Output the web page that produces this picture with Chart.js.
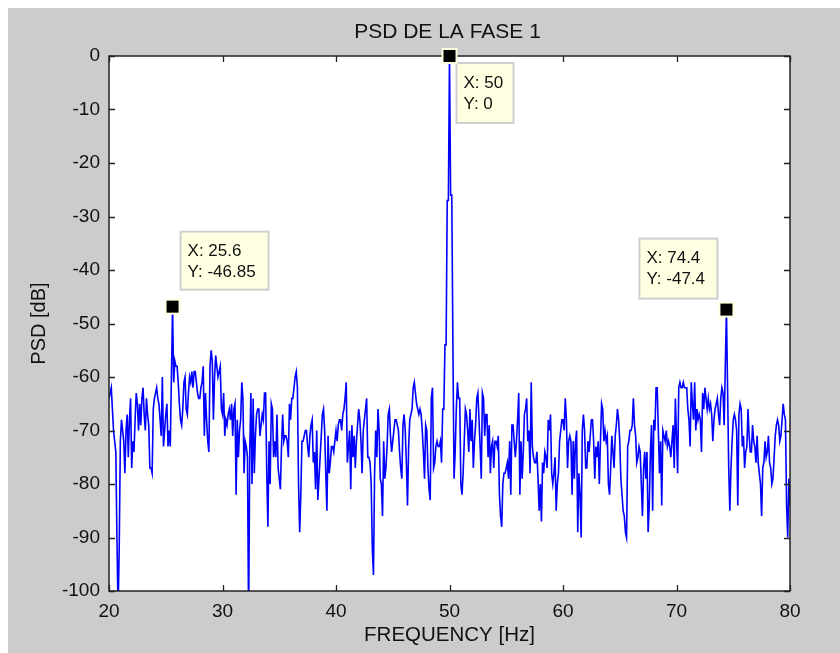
<!DOCTYPE html>
<html><head><meta charset="utf-8">
<script src="https://cdn.jsdelivr.net/npm/chart.js@4.4.1/dist/chart.umd.min.js"></script>
<style>html,body{margin:0;padding:0;background:#fff;}canvas{display:block;}</style>
</head><body>
<canvas id="c" width="840" height="653"></canvas>
<script>
const chartTitle = 'PSD DE LA FASE 1';
const xTitle = 'FREQUENCY [Hz]';
const yTitle = 'PSD [dB]';
const freqStart = 20, freqStep = 0.1;
// PSD values (dB), 0.1 Hz apart
const psd20to30 = [-64,-63,-62,-66,-70,-72,-74,-90,-104,-92,
 -72,-68,-70,-72,-78,-70,-67,-75,-68,-64,
 -77,-72,-74,-68,-63,-65,-70,-65,-69,-64,
 -62,-67,-70,-64,-67,-69,-77,-77,-78,-66,
 -64,-63,-62,-64,-65,-68,-71,-60,-73,-70,
 -67,-65,-73,-70,-73,-60,-46.85,-61,-57,-58,
 -58,-61,-65,-68,-69,-66,-61,-60,-66,-67,
 -63,-60,-61,-59,-62,-59,-59,-61,-63,-64,
 -64,-62,-61,-58,-71,-63,-68,-72,-74,-58,
 -55,-57,-68,-60,-56,-58,-60,-59,-58,-66,
 -67];
const psd30to40 = [-63,-71,-68,-69,-67,-66,-68,-65,-71,-66,
 -65,-82,-68,-75,-70,-68,-61,-64,-78,-72,
 -73,-75,-106,-74,-63,-80,-64,-78,-71,-67,
 -66,-66,-71,-69,-67,-68,-63,-63,-78,-88,
 -72,-80,-65,-66,-75,-72,-75,-67,-77,-79,
 -81,-73,-67,-72,-71,-71,-72,-75,-65,-68,
 -64,-64,-62,-60,-59,-62,-80,-89,-82,-72,
 -72,-71,-70,-70,-73,-75,-71,-69,-68,-76,
 -74,-81,-70,-83,-79,-75,-71,-67,-66,-70,
 -78,-85,-71,-78,-76,-73,-73,-74,-72,-70];
const psd40to50 = [-72,-69,-68,-68,-70,-67,-66,-64,-61,-76,
 -73,-70,-81,-69,-75,-71,-77,-72,-69,-66,
 -68,-72,-78,-70,-68,-66,-64,-75,-75,-76,
 -80,-92,-97,-78,-70,-75,-66,-70,-79,-80,
 -86,-72,-79,-77,-73,-67,-66,-71,-74,-72,
 -70,-68,-68,-69,-70,-74,-77,-79,-69,-67,
 -70,-76,-84,-73,-68,-67,-66,-62,-61,-63,
 -65,-66,-67,-66,-67,-70,-74,-79,-69,-70,
 -77,-81,-83,-64,-62,-77,-76,-73,-72,-73,
 -73,-72,-76,-66,-66,-54,-54,-27,-27,0];
const psd50to60 = [-26,-26,-54,-79,-74,-66,-61,-64,-64,-80,
 -82,-78,-72,-66,-67,-70,-74,-66,-72,-68,
 -77,-72,-69,-64,-63,-68,-73,-79,-63,-64,
 -71,-67,-67,-75,-69,-78,-73,-72,-77,-72,
 -72,-73,-71,-82,-86,-88,-80,-78,-78,-77,
 -76,-79,-72,-82,-69,-69,-72,-75,-72,-68,
 -63,-82,-72,-79,-74,-67,-66,-64,-72,-70,
 -78,-61,-73,-75,-76,-76,-74,-79,-85,-80,
 -87,-76,-78,-74,-75,-77,-68,-70,-67,-78,
 -80,-78,-75,-85,-80,-78,-72,-70,-68,-68];
const psd60to70 = [-70,-64,-68,-77,-72,-71,-72,-82,-72,-79,
 -72,-70,-89,-78,-82,-90,-70,-67,-70,-77,
 -77,-72,-74,-71,-68,-68,-72,-79,-73,-75,
 -72,-80,-72,-65,-66,-72,-70,-72,-71,-80,
 -82,-77,-71,-74,-77,-71,-69,-66,-68,-72,
 -79,-82,-85,-86,-89,-90,-73,-72,-70,-70,
 -69,-64,-69,-71,-76,-75,-73,-74,-80,-86,
 -77,-74,-79,-74,-89,-84,-74,-69,-85,-68,
 -70,-62,-62,-70,-78,-72,-84,-70,-71,-72,
 -70,-73,-72,-73,-75,-72,-69,-77,-64,-71];
const psd70to80 = [-78,-62,-61,-62,-62,-61,-62,-62,-62,-66,
 -68,-73,-61,-65,-68,-61,-70,-66,-68,-67,
 -68,-74,-63,-66,-62,-64,-66,-64,-66,-65,
 -67,-72,-68,-66,-65,-64,-67,-69,-64,-62,
 -63,-69,-58,-47.4,-62,-77,-85,-77,-72,-68,
 -67,-68,-70,-84,-67,-65,-66,-73,-71,-77,
 -74,-73,-66,-71,-74,-74,-69,-72,-73,-76,
 -71,-76,-78,-80,-86,-77,-76,-72,-75,-74,
 -71,-76,-77,-80,-79,-75,-71,-69,-68,-69,
 -72,-71,-68,-65,-67,-68,-84,-90,-79,-84];
const xTicks = [20,30,40,50,60,70,80];
const yTicks = [0,-10,-20,-30,-40,-50,-60,-70,-80,-90,-100];
const tipX = [25.6, 50, 74.4];
const tipY = [-46.85, 0, -47.4];
const tipLabelX = ['X: 25.6', 'X: 50', 'X: 74.4'];
const tipLabelY = ['Y: -46.85', 'Y: 0', 'Y: -47.4'];

const psd = [].concat(psd20to30, psd30to40, psd40to50, psd50to60, psd60to70, psd70to80);
const points = psd.map((v, i) => ({x: Math.round((freqStart + i * freqStep) * 10) / 10, y: v}));

const FONT = "'Liberation Sans', Arial, sans-serif";
// box placement of each data tip relative to its marker: [dx, dy, w, h]
const tipBox = [[8, -75, 88, 58], [7, 7, 57, 60], [-87, -71, 78, 60]];

const decor = {
  id: 'decor',
  beforeDraw(chart) {
    const c = chart.ctx, a = chart.chartArea;
    c.save();
    c.fillStyle = '#ffffff'; c.fillRect(0, 0, chart.width, chart.height);
    c.fillStyle = '#cccccc'; c.fillRect(8, 8, chart.width - 8, chart.height - 8);
    c.fillStyle = '#ffffff'; c.fillRect(a.left, a.top, a.right - a.left, a.bottom - a.top);
    c.fillStyle = '#111111';
    c.font = '21px ' + FONT;
    c.textAlign = 'center'; c.textBaseline = 'middle';
    c.fillText(chartTitle, (a.left + a.right) / 2 - 2, 32);
    c.restore();
  },
  afterDatasetsDraw(chart) {
    const c = chart.ctx, a = chart.chartArea;
    const xs = chart.scales.x, ys = chart.scales.y;
    c.save();
    c.strokeStyle = '#222222'; c.lineWidth = 1.5;
    c.strokeRect(a.left, a.top, a.right - a.left, a.bottom - a.top);
    c.lineWidth = 1.3;
    c.beginPath();
    xTicks.forEach(t => {
      const p = Math.round(xs.getPixelForValue(t)) + 0.5;
      c.moveTo(p, a.bottom); c.lineTo(p, a.bottom - 6);
      c.moveTo(p, a.top); c.lineTo(p, a.top + 6);
    });
    yTicks.forEach(t => {
      const p = Math.round(ys.getPixelForValue(t)) + 0.5;
      c.moveTo(a.left, p); c.lineTo(a.left + 6, p);
      c.moveTo(a.right, p); c.lineTo(a.right - 6, p);
    });
    c.stroke();
    // data tips
    tipX.forEach((fx, k) => {
      const mx = xs.getPixelForValue(fx), my = ys.getPixelForValue(tipY[k]);
      const [dx, dy, w, h] = tipBox[k];
      const bx = mx + dx, by = my + dy;
      c.fillStyle = '#ffffe2';
      c.fillRect(bx, by, w, h);
      c.strokeStyle = '#cfcfcf'; c.lineWidth = 2;
      c.strokeRect(bx, by, w, h);
      c.fillStyle = '#111111';
      c.font = '17px ' + FONT;
      c.textBaseline = 'middle'; c.textAlign = 'left';
      c.fillText(tipLabelX[k], bx + 7, by + 20);
      c.fillText(tipLabelY[k], bx + 7, by + 41);
      // marker
      c.fillStyle = '#ffffe2';
      c.fillRect(mx - 8, my - 8, 16, 16);
      c.fillStyle = '#000000';
      c.fillRect(mx - 6, my - 6, 12, 12);
    });
    c.restore();
  }
};

new Chart(document.getElementById('c'), {
  type: 'line',
  data: { datasets: [{
    data: points,
    borderColor: '#0000ff',
    borderWidth: 1.6,
    pointRadius: 0,
    tension: 0,
    fill: false,
    clip: 0
  }]},
  options: {
    responsive: false,
    animation: false,
    events: [],
    layout: { padding: { left: 0, right: 50, top: 56, bottom: 0 } },
    plugins: {
      legend: { display: false },
      tooltip: { enabled: false },
      title: { display: false }
    },
    scales: {
      x: {
        type: 'linear', min: 20, max: 80,
        grid: { display: false, drawTicks: false },
        border: { display: false },
        afterFit(s) { s.height = 62; },
        afterBuildTicks(s) { s.ticks = xTicks.map(v => ({value: v})); },
        ticks: { color: '#111111', padding: 9, maxRotation: 0, autoSkip: false,
                 font: { family: FONT, size: 19 } },
        title: { display: true, text: xTitle, color: '#111111',
                 font: { family: FONT, size: 20.5 }, padding: { top: 0, bottom: 5 } }
      },
      y: {
        min: -100, max: 0,
        grid: { display: false, drawTicks: false },
        border: { display: false },
        afterFit(s) { s.width = 109; },
        afterBuildTicks(s) { s.ticks = yTicks.map(v => ({value: v})); },
        ticks: { color: '#111111', padding: 9, autoSkip: false,
                 font: { family: FONT, size: 19 } },
        title: { display: true, text: yTitle, color: '#111111',
                 font: { family: FONT, size: 20 }, padding: { top: 27, bottom: 0 } }
      }
    }
  },
  plugins: [decor]
});
</script>
</body></html>
